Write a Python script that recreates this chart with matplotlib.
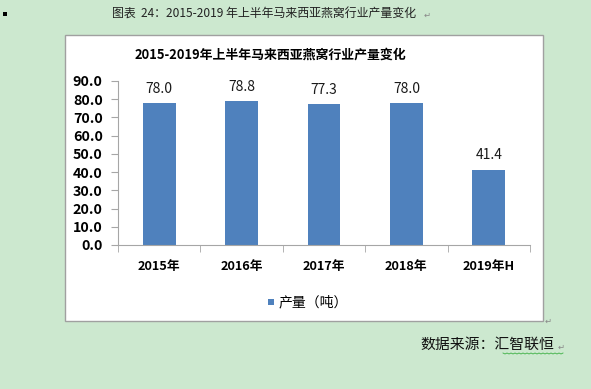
import matplotlib.pyplot as plt
from matplotlib.patches import Rectangle
from matplotlib.lines import Line2D
from matplotlib.ticker import FormatStrFormatter

plt.rcParams['font.family'] = ['Noto Sans CJK SC', 'DejaVu Sans']

years = ['2015年', '2016年', '2017年', '2018年', '2019年H']
output = [78.0, 78.8, 77.3, 78.0, 41.4]
yticks = [0, 10, 20, 30, 40, 50, 60, 70, 80, 90]

bg = '#cce8cf'
bar_color = '#4f81bd'
axis_gray = '#a6a6a6'

W, H = 591, 389
fig = plt.figure(figsize=(W / 100, H / 100), dpi=100, facecolor=bg)

# white chart box
fig.patches.append(Rectangle((65 / W, 1 - 321 / H), (543 - 65) / W, (321 - 35) / H,
                             transform=fig.transFigure, facecolor='white',
                             edgecolor='#a0a0a0', lw=1, zorder=-1))

ax = fig.add_axes([118 / W, 1 - 245 / H, (530 - 118) / W, (245 - 81) / H])
ax.set_zorder(2)
ax.set_facecolor('none')
x = range(len(years))
bars = ax.bar(x, output, width=0.4, color=bar_color, zorder=2)
for b, v in zip(bars, output):
    ax.text(b.get_x() + b.get_width() / 2, v + 4, f'{v:.1f}', ha='center', va='bottom',
            fontsize=10, color='#1a1a1a')

ax.set_xlim(-0.5, len(years) - 0.5)
ax.set_ylim(0, 90)
ax.set_yticks(yticks)
ax.yaxis.set_major_formatter(FormatStrFormatter('%.1f'))
ax.set_xticks(list(x))
ax.set_xticklabels(years, fontsize=9.2, fontweight='bold')
ax.set_xticks([i - 0.5 for i in range(len(years) + 1)], minor=True)
ax.tick_params(axis='x', which='major', length=0, pad=11)
ax.tick_params(axis='x', which='minor', length=5, color=axis_gray, direction='out')
ax.tick_params(axis='y', length=5, color=axis_gray, labelsize=10.3, pad=6)
for lab in ax.get_yticklabels():
    lab.set_fontweight('bold')
for s in ['top', 'right']:
    ax.spines[s].set_visible(False)
for s in ['left', 'bottom']:
    ax.spines[s].set_color(axis_gray)

# chart title
fig.text(270 / W, 1 - 55 / H, '2015-2019年上半年马来西亚燕窝行业产量变化',
         ha='center', va='center', fontsize=9.3, fontweight='bold')

# legend
fig.patches.append(Rectangle((268 / W, 1 - 305 / H), 6 / W, 6 / H,
                             transform=fig.transFigure, facecolor=bar_color, lw=0))
fig.text(279 / W, 1 - 302 / H, '产量（吨）', ha='left', va='center', fontsize=10)

# document caption and source
fig.patches.append(Rectangle((3 / W, 1 - 16 / H), 4 / W, 4 / H,
                             transform=fig.transFigure, facecolor='black', lw=0))
fig.text(112 / W, 1 - 14 / H, '图表  24：2015-2019 年上半年马来西亚燕窝行业产量变化',
         ha='left', va='center', fontsize=8.6, color='#222222')
fig.text(424 / W, 1 - 15 / H, '↵', ha='left', va='center', fontsize=6, color='#888888')
fig.text(420 / W, 1 - 345 / H, '数据来源：汇智联恒', ha='left', va='center',
         fontsize=10.7, color='#111111')
fig.text(558 / W, 1 - 347 / H, '↵', ha='left', va='center', fontsize=6, color='#888888')
fig.text(545 / W, 1 - 321 / H, '↵', ha='left', va='center', fontsize=6, color='#888888')

# spell-check squiggle under the source name
zx = [503 + 2 * i for i in range(31)]
zy = [353 + (i % 2) for i in range(31)]
fig.lines.append(Line2D([v / W for v in zx], [1 - v / H for v in zy],
                        transform=fig.transFigure, color='#3cb043', lw=0.6))

fig.savefig('out.png', dpi=100, facecolor=bg)
